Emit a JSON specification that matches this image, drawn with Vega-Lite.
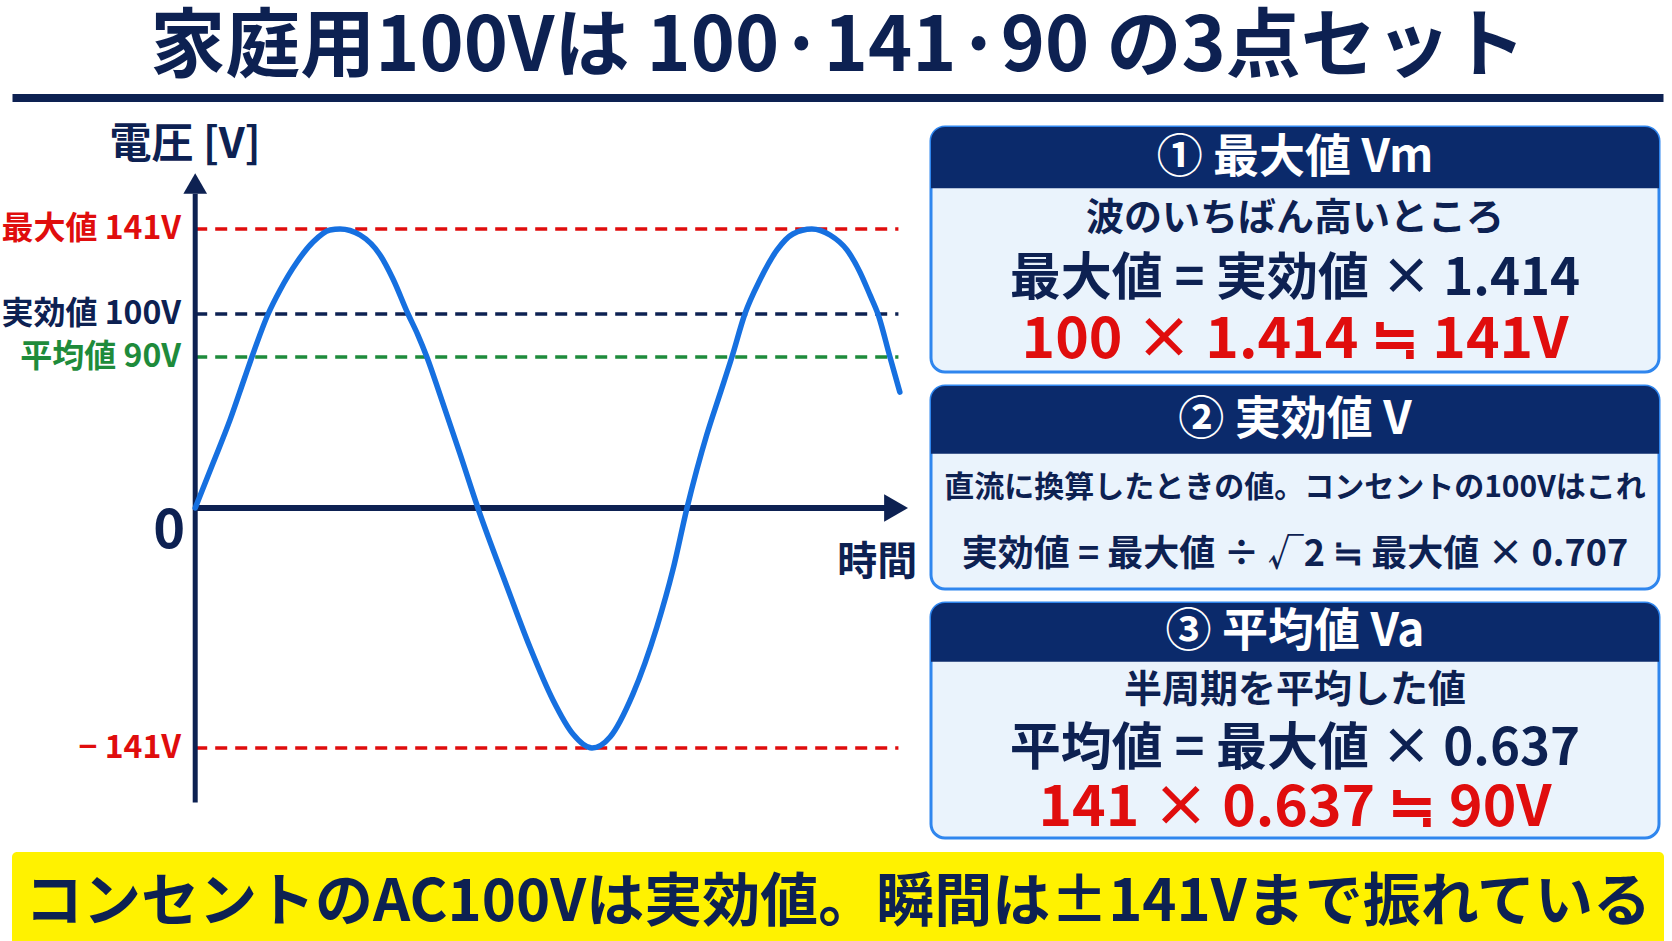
{
  "$schema": "https://vega.github.io/schema/vega-lite/v6.json",
  "padding": 0,
  "background": "white",
  "spacing": 0,
  "center": true,
  "config": {
    "view": {"stroke": null},
    "axis": {"disable": true},
    "legend": {"disable": true},
    "text": {"font": "Noto Sans CJK JP", "fontWeight": "bold", "baseline": "middle"}
  },
  "resolve": {"scale": {"x": "independent", "y": "independent", "color": "independent", "size": "independent"}},
  "datasets": {
    "wave": [
      {"t": 0, "v": 0}, {"t": 0.76, "v": 26.8}, {"t": 1.48, "v": 52.5}, {"t": 2.07, "v": 76.3},
      {"t": 2.41, "v": 90}, {"t": 3.1, "v": 100}, {"t": 3.61, "v": 111.6}, {"t": 4.33, "v": 125.1},
      {"t": 5.01, "v": 134.7}, {"t": 5.73, "v": 140.5}, {"t": 6.16, "v": 141}, {"t": 7.01, "v": 138.1},
      {"t": 7.86, "v": 128.5}, {"t": 8.41, "v": 116.9}, {"t": 9.05, "v": 100}, {"t": 9.47, "v": 95.1},
      {"t": 9.85, "v": 90}, {"t": 10.41, "v": 67.4}, {"t": 11.26, "v": 32.2}, {"t": 12.02, "v": 0},
      {"t": 13.26, "v": -46.4}, {"t": 14.23, "v": -81.7}, {"t": 15.21, "v": -112.8}, {"t": 16.06, "v": -132.8},
      {"t": 16.87, "v": -141}, {"t": 17.64, "v": -134.5}, {"t": 18.61, "v": -109.3}, {"t": 19.63, "v": -69.9},
      {"t": 20.31, "v": -36.4}, {"t": 20.91, "v": 0}, {"t": 21.76, "v": 44.1}, {"t": 22.31, "v": 67.9},
      {"t": 22.82, "v": 90}, {"t": 23.37, "v": 100}, {"t": 24.01, "v": 116.4}, {"t": 24.74, "v": 130.9},
      {"t": 25.41, "v": 138.6}, {"t": 26.22, "v": 141}, {"t": 26.99, "v": 138.1}, {"t": 27.71, "v": 130.9},
      {"t": 28.26, "v": 120.3}, {"t": 28.69, "v": 109.2}, {"t": 29.03, "v": 100}, {"t": 29.54, "v": 90},
      {"t": 29.96, "v": 69.1}
    ],
    "refs": [
      {"name": "最大値", "v": 141, "label": "最大値 141V"},
      {"name": "実効値", "v": 100, "label": "実効値 100V"},
      {"name": "平均値", "v": 90, "label": "平均値  90V"},
      {"name": "負の最大値", "v": -141, "label": "− 141V"}
    ]
  },
  "vconcat": [
    {
      "width": 1672,
      "height": 92,
      "data": {"values": [{"text": "家庭用100Vは 100·141·90 の3点セット"}]},
      "mark": {"type": "text", "fontSize": 75, "dy": 2, "color": "#0d2152"},
      "encoding": {"text": {"field": "text"}}
    },
    {
      "width": 1651,
      "height": 8,
      "view": {"fill": "#0d2152", "stroke": null},
      "data": {"values": [{}]},
      "mark": {"type": "text", "text": ""}
    },
    {
      "spacing": 0,
      "resolve": {"scale": {"x": "independent", "y": "independent", "color": "independent", "size": "independent"}},
      "hconcat": [
        {
          "width": 929,
          "height": 718,
          "layer": [
            {
              "data": {"name": "refs"},
              "mark": {"type": "rule", "strokeDash": [12, 8], "strokeWidth": 3.5},
              "encoding": {
                "x": {"datum": 0, "type": "quantitative", "scale": {"domain": [-8.3, 31.2], "nice": false, "zero": false}},
                "x2": {"datum": 29.9},
                "y": {"field": "v", "type": "quantitative", "scale": {"domain": [-141, 0, 90, 100, 141], "range": [641, 401, 250, 207, 122], "nice": false, "zero": false}},
                "color": {"field": "name", "type": "nominal", "scale": {"domain": ["最大値", "実効値", "平均値", "負の最大値"], "range": ["#e00d0d", "#0d2152", "#1e8b3b", "#e00d0d"]}}
              }
            },
            {
              "data": {"values": [{}]},
              "mark": {"type": "rule", "color": "#0d2152", "strokeWidth": 5},
              "encoding": {
                "x": {"datum": 0, "type": "quantitative"},
                "y": {"datum": -173, "type": "quantitative"},
                "y2": {"datum": 158}
              }
            },
            {
              "data": {"values": [{}]},
              "mark": {"type": "rule", "color": "#0d2152", "strokeWidth": 6},
              "encoding": {
                "x": {"datum": 0, "type": "quantitative"},
                "x2": {"datum": 29.4},
                "y": {"datum": 0, "type": "quantitative"}
              }
            },
            {
              "data": {"name": "wave"},
              "mark": {"type": "line", "interpolate": "monotone", "color": "#1670e0", "strokeWidth": 5.5, "strokeCap": "round"},
              "encoding": {
                "x": {"field": "t", "type": "quantitative"},
                "y": {"field": "v", "type": "quantitative"}
              }
            },
            {
              "data": {"values": [{}]},
              "mark": {"type": "point", "shape": "triangle-up", "filled": true, "opacity": 1, "size": 560, "color": "#0d2152"},
              "encoding": {
                "x": {"datum": 0, "type": "quantitative"},
                "y": {"datum": 163, "type": "quantitative"}
              }
            },
            {
              "data": {"values": [{}]},
              "mark": {"type": "point", "shape": "triangle-right", "filled": true, "opacity": 1, "size": 760, "color": "#0d2152"},
              "encoding": {
                "x": {"datum": 29.8, "type": "quantitative"},
                "y": {"datum": 0, "type": "quantitative"}
              }
            },
            {
              "data": {"name": "refs"},
              "mark": {"type": "text", "align": "right", "fontSize": 32},
              "encoding": {
                "x": {"datum": -0.6, "type": "quantitative"},
                "y": {"field": "v", "type": "quantitative"},
                "text": {"field": "label"},
                "color": {"field": "name", "type": "nominal"}
              }
            },
            {
              "data": {"values": [{"label": "0"}]},
              "mark": {"type": "text", "fontSize": 54, "color": "#0d2152"},
              "encoding": {
                "x": {"datum": -1.11, "type": "quantitative"},
                "y": {"datum": -14, "type": "quantitative"},
                "text": {"field": "label"}
              }
            },
            {
              "data": {"values": [{"label": "電圧 [V]"}]},
              "mark": {"type": "text", "fontSize": 42, "color": "#0d2152"},
              "encoding": {
                "x": {"datum": -0.43, "type": "quantitative"},
                "y": {"datum": 181.5, "type": "quantitative"},
                "text": {"field": "label"}
              }
            },
            {
              "data": {"values": [{"label": "時間"}]},
              "mark": {"type": "text", "fontSize": 40, "color": "#0d2152"},
              "encoding": {
                "x": {"datum": 29.0, "type": "quantitative"},
                "y": {"datum": -32.3, "type": "quantitative"},
                "text": {"field": "label"}
              }
            }
          ]
        },
        {
          "spacing": 10,
          "resolve": {"scale": {"x": "independent", "y": "independent", "color": "independent", "size": "independent"}},
          "vconcat": [
            {
              "width": 728,
              "height": 5,
              "data": {"values": [{}]},
              "mark": {"type": "text", "text": ""}
            },
            {
              "width": 728,
              "height": 245,
              "view": {"fill": "#eaf3fc", "stroke": "#2f86ee", "strokeWidth": 3, "cornerRadius": 14},
              "data": {"values": [
                {"row": 1, "role": "head", "text": "① 最大値 Vm"},
                {"row": 2, "role": "note", "text": "波のいちばん高いところ"},
                {"row": 3, "role": "formula", "text": "最大値 = 実効値 × 1.414"},
                {"row": 4, "role": "result", "text": "100 × 1.414 ≒ 141V"}
              ]},
              "encoding": {"y": {"field": "row", "type": "ordinal", "scale": {"paddingInner": 0, "paddingOuter": 0}}},
              "layer": [
                {
                  "transform": [{"filter": "datum.role === 'head'"}],
                  "mark": {"type": "rect", "color": "#0b2a6b", "cornerRadiusTopLeft": 14, "cornerRadiusTopRight": 14}
                },
                {
                  "mark": {"type": "text"},
                  "encoding": {
                    "text": {"field": "text"},
                    "color": {"condition": [{"test": "datum.role === 'head'", "value": "#ffffff"}, {"test": "datum.role === 'result'", "value": "#e00d0d"}], "value": "#0d2152"},
                    "size": {"condition": [{"test": "datum.role === 'head'", "value": 46}, {"test": "datum.role === 'result'", "value": 57}, {"test": "datum.role === 'formula'", "value": 51}], "value": 38}
                  }
                }
              ]
            },
            {
              "width": 728,
              "height": 203,
              "view": {"fill": "#eaf3fc", "stroke": "#2f86ee", "strokeWidth": 3, "cornerRadius": 14},
              "data": {"values": [
                {"row": 1, "role": "head", "text": "② 実効値 V"},
                {"row": 2, "role": "note-long", "text": "直流に換算したときの値。コンセントの100Vはこれ"},
                {"row": 3, "role": "formula-long", "text": "実効値 = 最大値 ÷ √2 ≒ 最大値 × 0.707"}
              ]},
              "encoding": {"y": {"field": "row", "type": "ordinal", "scale": {"paddingInner": 0, "paddingOuter": 0}}},
              "layer": [
                {
                  "transform": [{"filter": "datum.role === 'head'"}],
                  "mark": {"type": "rect", "color": "#0b2a6b", "cornerRadiusTopLeft": 14, "cornerRadiusTopRight": 14}
                },
                {
                  "mark": {"type": "text"},
                  "encoding": {
                    "text": {"field": "text"},
                    "color": {"condition": [{"test": "datum.role === 'head'", "value": "#ffffff"}], "value": "#0d2152"},
                    "size": {"condition": [{"test": "datum.role === 'head'", "value": 46}, {"test": "datum.role === 'note-long'", "value": 30}], "value": 36}
                  }
                }
              ]
            },
            {
              "width": 728,
              "height": 235,
              "view": {"fill": "#eaf3fc", "stroke": "#2f86ee", "strokeWidth": 3, "cornerRadius": 14},
              "data": {"values": [
                {"row": 1, "role": "head", "text": "③ 平均値 Va"},
                {"row": 2, "role": "note", "text": "半周期を平均した値"},
                {"row": 3, "role": "formula", "text": "平均値 = 最大値 × 0.637"},
                {"row": 4, "role": "result", "text": "141 × 0.637 ≒ 90V"}
              ]},
              "encoding": {"y": {"field": "row", "type": "ordinal", "scale": {"paddingInner": 0, "paddingOuter": 0}}},
              "layer": [
                {
                  "transform": [{"filter": "datum.role === 'head'"}],
                  "mark": {"type": "rect", "color": "#0b2a6b", "cornerRadiusTopLeft": 14, "cornerRadiusTopRight": 14}
                },
                {
                  "mark": {"type": "text"},
                  "encoding": {
                    "text": {"field": "text"},
                    "color": {"condition": [{"test": "datum.role === 'head'", "value": "#ffffff"}, {"test": "datum.role === 'result'", "value": "#e00d0d"}], "value": "#0d2152"},
                    "size": {"condition": [{"test": "datum.role === 'head'", "value": 46}, {"test": "datum.role === 'result'", "value": 57}, {"test": "datum.role === 'formula'", "value": 51}], "value": 38}
                  }
                }
              ]
            }
          ]
        },
        {
          "width": 15,
          "height": 718,
          "data": {"values": [{}]},
          "mark": {"type": "text", "text": ""}
        }
      ]
    },
    {
      "width": 1672,
      "height": 9,
      "data": {"values": [{}]},
      "mark": {"type": "text", "text": ""}
    },
    {
      "width": 1652,
      "height": 103,
      "view": {"fill": "#fff200", "stroke": null, "cornerRadius": 5},
      "data": {"values": [{"text": "コンセントのAC100Vは実効値。瞬間は±141Vまで振れている"}]},
      "mark": {"type": "text", "fontSize": 58, "color": "#0d2152"},
      "encoding": {"text": {"field": "text"}}
    }
  ]
}
